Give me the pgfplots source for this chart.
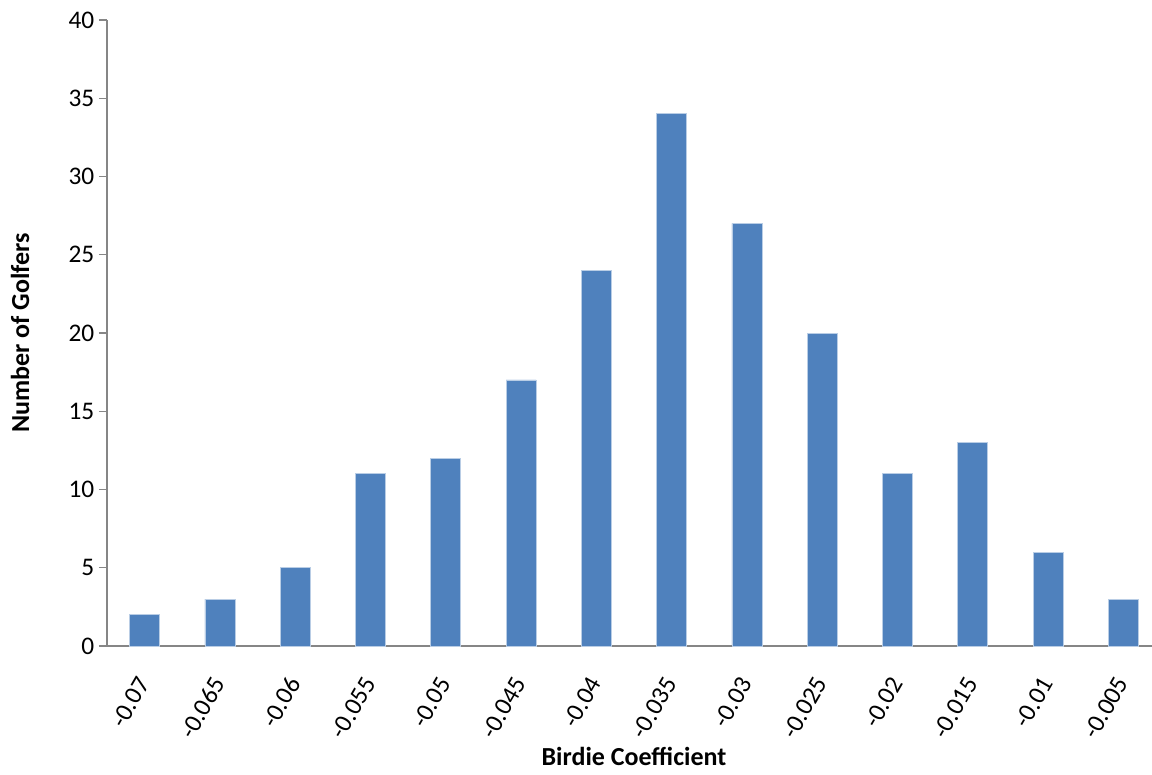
\documentclass[border=0pt]{standalone}
\usepackage{pgfplots}
\pgfplotsset{compat=1.18}
\usepackage{fontspec}
\setmainfont{Carlito}
\definecolor{barblue}{RGB}{79,129,189}
\definecolor{baredge}{RGB}{185,205,229}
\definecolor{axisgray}{RGB}{134,134,134}
\begin{document}
\begin{tikzpicture}
\useasboundingbox (-80.25pt,-96pt) rectangle (783.75pt,484.5pt);
\begin{axis}[
  scale only axis,
  width=790.5pt, height=469.5pt,
  xmin=-0.5, xmax=13.5,
  ymin=0, ymax=40,
  ytick={0,5,...,40},
  xtick={0,...,13},
  xticklabels={-0.07,-0.065,-0.06,-0.055,-0.05,-0.045,-0.04,-0.035,-0.03,-0.025,-0.02,-0.015,-0.01,-0.005},
  minor xtick={-0.5,0.5,...,13.5},
  axis x line*=bottom,
  axis y line*=left,
  axis line style={axisgray, line width=1pt, -},
  x tick style={draw=none},
  minor x tick style={axisgray, line width=1pt},
  y tick style={axisgray, line width=1pt},
  tick align=outside,
  major tick length=6pt,
  minor tick length=6pt,
  xticklabel style={yshift=-16pt, xshift=1pt, rotate=60, anchor=east, font=\fontsize{19}{19}\selectfont},
  yticklabel style={font=\fontsize{19}{19}\selectfont},
  /pgf/number format/assume math mode=true,
  xlabel={\textbf{Birdie Coefficient}},
  ylabel={\textbf{Number of Golfers}},
  label style={font=\fontsize{19.5}{20}\selectfont},
  xlabel style={at={(axis description cs:0.5,0)}, anchor=center, yshift=-83pt},
  ylabel style={at={(axis description cs:-0.0825,0.5)}, anchor=center},
  ybar, bar width=22.5pt,
]
\addplot[fill=barblue, draw=baredge, line width=0.6pt] coordinates {
  (0,2) (1,3) (2,5) (3,11) (4,12) (5,17) (6,24)
  (7,34) (8,27) (9,20) (10,11) (11,13) (12,6) (13,3)
};
\end{axis}
\end{tikzpicture}
\end{document}
